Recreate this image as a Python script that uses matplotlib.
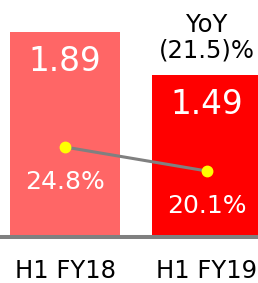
import numpy as np
import matplotlib.pyplot as plt

categories = ['H1 FY18', 'H1 FY19']
values = [1.89, 1.49]
margins = [24.8, 20.1]
value_labels = ['1.89', '1.49']
margin_labels = ['24.8%', '20.1%']
yoy_label = 'YoY\n(21.5)%'
bar_colors = ['#FF6666', '#FF0000']

plt.rcParams['font.family'] = 'DejaVu Sans'

fig = plt.figure(figsize=(2.58, 2.83), dpi=100)
ax = fig.add_axes([0, 44 / 283, 1, 239 / 283])
x = np.arange(len(categories))

ax.bar(x, values, width=0.775, color=bar_colors, zorder=1)
ax.set_xlim(-0.458, 1.359)
ax.set_ylim(-0.037, 2.188)
ax.axhline(-0.018, color='#808080', lw=2.9, zorder=3)

for xi, v, lab in zip(x, values, value_labels):
    ax.annotate(lab, (xi, v), xytext=(0, -21.5), textcoords='offset points',
                ha='center', va='center', color='white', fontsize=23.5)

ax.text(x[1], 1.835, yoy_label, ha='center', va='center', fontsize=17.5,
        linespacing=1.1)

ax.set_xticks(x)
ax.set_xticklabels(categories, fontsize=17.5)
ax.tick_params(axis='x', length=0, pad=14.5)
ax.set_yticks([])
for s in ax.spines.values():
    s.set_visible(False)

ax2 = ax.twinx()
ax2.set_ylim(6.79, 53.59)
ax2.plot(x, margins, color='#808080', lw=2.2, marker='o', markersize=7.5,
         markerfacecolor='#FFFF00', markeredgecolor='#FFFF00', zorder=4)
for xi, m, lab in zip(x, margins, margin_labels):
    ax2.annotate(lab, (xi, m), xytext=(0, -25), textcoords='offset points',
                 ha='center', va='center', color='white', fontsize=18)
ax2.set_yticks([])
for s in ax2.spines.values():
    s.set_visible(False)

plt.savefig('out.png', dpi=100)
